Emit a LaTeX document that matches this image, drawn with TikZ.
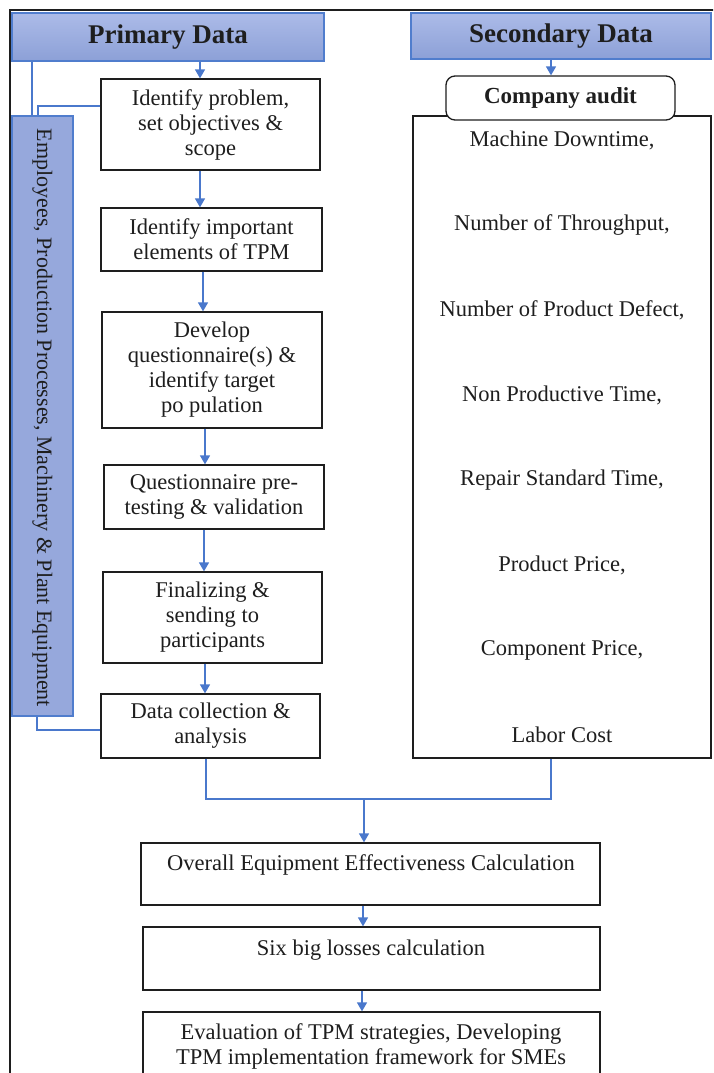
\documentclass[tikz,border=0pt]{standalone}
\usepackage{fontspec}
\setmainfont{Liberation Serif}
\usetikzlibrary{arrows.meta}
\definecolor{hdrtop}{RGB}{172,187,232}
\definecolor{hdrbot}{RGB}{140,160,215}
\definecolor{hdrline}{RGB}{80,125,205}
\definecolor{sidefill}{RGB}{150,168,220}
\definecolor{flow}{RGB}{74,120,204}
\definecolor{ink}{RGB}{30,30,30}
\tikzset{
  hdr/.style={draw=hdrline, line width=1.3pt, top color=hdrtop, bottom color=hdrbot, inner sep=0pt,
    font=\fontsize{27}{30}\selectfont\bfseries, text=ink},
  box/.style={draw=ink, line width=1.3pt, fill=white, inner sep=0pt, align=center,
    font=\fontsize{22.5}{25}\selectfont, text=ink},
  txt/.style={inner sep=0pt, align=center, font=\fontsize{22.5}{25}\selectfont, text=ink, yshift=-2pt},
  link/.style={draw=flow, line width=1.5pt},
  arr/.style={draw=flow, line width=1.5pt, -{Triangle[width=10pt,length=9pt]}},
}
\begin{document}
\begin{tikzpicture}[x=1pt,y=-1pt]
\useasboundingbox (0,0) rectangle (713,1073);
\clip (0,0) rectangle (713,1073);
\fill[white] (0,0) rectangle (713,1073);
% outer frame
\draw[ink, line width=1.4pt] (10,1090) -- (10,10) -- (720,10);

% headers
\node[hdr, minimum width=312pt, minimum height=48pt] (prim) at (168,37) {Primary Data};
\node[hdr, minimum width=300pt, minimum height=46pt] (sec) at (561,36) {Secondary Data};

% left flow boxes
\node[box, minimum width=219pt, minimum height=91pt] (b1) at (210.5,124.5) {Identify problem,\\set objectives \&\\scope};
\node[box, minimum width=221pt, minimum height=63pt] (b2) at (211.5,239.5) {Identify important\\elements of TPM};
\node[box, minimum width=220pt, minimum height=116pt] (b3) at (212,370) {Develop\\questionnaire(s) \&\\identify target\\po pulation};
\node[box, minimum width=220pt, minimum height=64pt] (b4) at (214,497) {Questionnaire pre-\\testing \& validation};
\node[box, minimum width=219pt, minimum height=91pt] (b5) at (212.5,617.5) {Finalizing \&\\sending to\\participants};
\node[box, minimum width=219pt, minimum height=64pt] (b6) at (210.5,726) {Data collection \&\\analysis};

% side box
\node[draw=hdrline, line width=1.3pt, fill=sidefill, minimum width=61pt, minimum height=600pt, inner sep=0pt] (side) at (42.5,416) {};
\node[txt, rotate=-90, yshift=0pt, font=\fontsize{22}{25}\selectfont] (sidetxt) at (side.center) {Employees, Production Processes, Machinery \& Plant Equipment};

% right side
\node[box, minimum width=298pt, minimum height=642pt] (big) at (562,437) {};
\node[box, rounded corners=9pt, minimum width=229pt, minimum height=44pt, font=\fontsize{23}{25}\selectfont\bfseries] (audit) at (560.5,98) {Company audit};
\node[txt] (t1) at (562,138) {Machine Downtime,};
\node[txt] (t2) at (562,223) {Number of Throughput,};
\node[txt] (t3) at (562,308) {Number of Product Defect,};
\node[txt] (t4) at (562,393) {Non Productive Time,};
\node[txt] (t5) at (562,478) {Repair Standard Time,};
\node[txt] (t6) at (562,563) {Product Price,};
\node[txt] (t7) at (562,648) {Component Price,};
\node[txt] (t8) at (562,733) {Labor Cost};

% bottom boxes
\node[box, minimum width=459pt, minimum height=62pt] (oee) at (370.5,874) {};
\node[txt] (oeet) at (371,863) {Overall Equipment Effectiveness Calculation};
\node[box, minimum width=457pt, minimum height=63pt] (six) at (371.5,958.5) {};
\node[txt] (sixt) at (371,948) {Six big losses calculation};
\node[box, minimum width=457pt, minimum height=90pt] (eval) at (371.5,1057) {};
\node[txt] (evalt) at (371,1044) {Evaluation of TPM strategies, Developing\\TPM implementation framework for SMEs};

% column coordinates
\coordinate (c200) at (200,0);
\coordinate (c203) at (203,0);
\coordinate (c204) at (204,0);
\coordinate (c205) at (205,0);
\coordinate (c206) at (206,0);
\coordinate (c551) at (551,0);
\coordinate (c364) at (364,0);
\coordinate (c363) at (363,0);
\coordinate (c362) at (362,0);
\coordinate (c32) at (32,0);
\coordinate (c38) at (38,0);
\coordinate (c37) at (37,0);
\coordinate (r106) at (0,106);
\coordinate (r730) at (0,730);
\coordinate (r799) at (0,799);

% arrows
\draw[arr] (prim.south -| c200) -- (b1.north -| c200);
\draw[arr] (b1.south -| c200) -- (b2.north -| c200);
\draw[arr] (b2.south -| c203) -- (b3.north -| c203);
\draw[arr] (b3.south -| c205) -- (b4.north -| c205);
\draw[arr] (b4.south -| c204) -- (b5.north -| c204);
\draw[arr] (b5.south -| c205) -- (b6.north -| c205);
\draw[arr] (sec.south -| c551) -- (audit.north -| c551);

% side links
\draw[link] (prim.south -| c32) -- (side.north -| c32);
\draw[link] (b1.west |- r106) -- (c38 |- r106) -- (side.north -| c38);
\draw[link] (side.south -| c37) -- (c37 |- r730) -- (b6.west |- r730);

% merge
\draw[link] (b6.south -| c206) -- (c206 |- r799) -- (c551 |- r799) -- (big.south -| c551);
\draw[arr] (c364 |- r799) -- (oee.north -| c364);
\draw[arr] (oee.south -| c363) -- (six.north -| c363);
\draw[arr] (six.south -| c362) -- (eval.north -| c362);
\end{tikzpicture}
\end{document}
